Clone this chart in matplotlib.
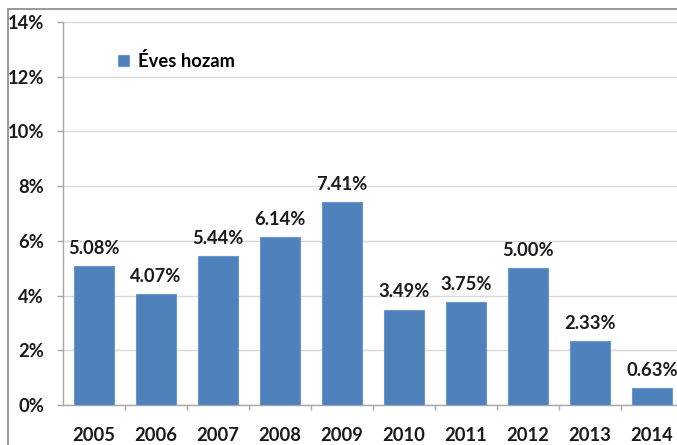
import matplotlib
matplotlib.use("Agg")
import matplotlib.pyplot as plt
from matplotlib.patches import Rectangle
from matplotlib.ticker import FuncFormatter

years = ["2005", "2006", "2007", "2008", "2009", "2010", "2011", "2012", "2013", "2014"]
returns = [5.08, 4.07, 5.44, 6.14, 7.41, 3.49, 3.75, 5.00, 2.33, 0.63]
series_name = "Éves hozam"

plt.rcParams['font.family'] = ['Lato', 'DejaVu Sans']
plt.rcParams['font.weight'] = 'bold'

FS = 13.2
W, H = 677, 445
fig = plt.figure(figsize=(W / 100, H / 100), dpi=100)
left, right, top, bottom = 63, 683, 22, 405
ax = fig.add_axes([left / W, 1 - bottom / H, (right - left) / W, (bottom - top) / H])

x = list(range(len(years)))
bars = ax.bar(x, returns, width=0.66, color="#4F81BD", edgecolor="#6A96CC", linewidth=0.8,
              label=series_name, zorder=3)
ax.set_xlim(-0.5, len(years) - 0.5)
ax.set_ylim(0, 14)
ax.set_yticks(range(0, 15, 2))
ax.yaxis.set_major_formatter(FuncFormatter(lambda v, p: f"{int(v)}%"))
ax.set_xticks(x)
ax.set_xticklabels(years)
ax.set_xticks([i + 0.5 for i in x], minor=True)
ax.tick_params(axis='x', which='major', length=0, pad=16, labelsize=FS)
ax.tick_params(axis='x', which='minor', length=3.5, color="#A6A6A6", width=1)
ax.tick_params(axis='y', length=4.3, color="#A6A6A6", width=1, pad=9.4, labelsize=FS)
ax.grid(axis='y', color="#D9D9D9", linewidth=1, zorder=0)
for s in ['top', 'right']:
    ax.spines[s].set_visible(False)
for s in ['left', 'bottom']:
    ax.spines[s].set_color("#A6A6A6")
    ax.spines[s].set_linewidth(1)

for xi, v in zip(x, returns):
    ax.annotate(f"{v:.2f}%", (xi, v), xytext=(0, 6.5), textcoords="offset points",
                ha="center", va="bottom", fontsize=FS, fontweight="bold", color="#1A1A1A")

leg = ax.legend(loc="upper left", bbox_to_anchor=(0.062, 0.965), frameon=False,
                handlelength=0.62, handleheight=0.62, handletextpad=0.45,
                prop={'size': FS, 'weight': 'bold'})

for lab in ax.get_xticklabels() + ax.get_yticklabels():
    lab.set_color("#1A1A1A")

fig.patches.append(Rectangle((8 / W, -0.1), 1.2, 1.1 - 9.5 / H, transform=fig.transFigure,
                             fill=False, edgecolor="#868686", linewidth=1.2))

fig.savefig("out.png", dpi=100)
